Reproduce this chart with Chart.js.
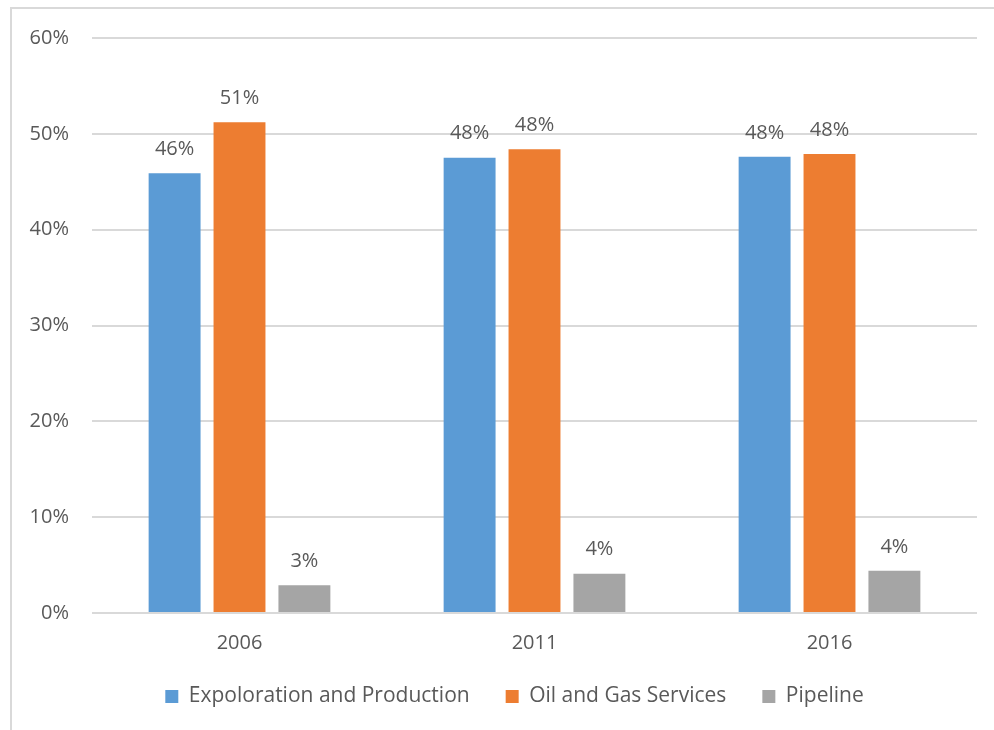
<!DOCTYPE html>
<html>
<head>
<meta charset="utf-8">
<script src="https://cdn.jsdelivr.net/npm/chart.js@4"></script>
<style>
  body { margin: 0; background: #fff; }
  #wrap { position: relative; width: 994px; height: 730px; overflow: hidden; }
  #frame { position: absolute; left: 10px; top: 7px; width: 1020px; height: 760px; border: 2px solid #d9d9d9; }
  #SegmentCanvas { position: absolute; left: 0; top: 0; }
</style>
</head>
<body>
<div id="wrap">
  <div id="frame"></div>
  <canvas id="SegmentCanvas" width="994" height="730"></canvas>
</div>
<script>
// share of activity by segment
const years = ['2006', '2011', '2016']
const explorationProduction = [45.9, 47.5, 47.6]
const oilGasServices = [51.2, 48.4, 47.9]
const pipeline = [2.9, 4.1, 4.4]
const yTicks = [0, 10, 20, 30, 40, 50, 60]

const textColor = '#595959'
const fontFamily = "'Open Sans', 'Noto Sans', sans-serif"

// draw the rounded value above each bar
const barLabels = {
    id: 'barLabels',
    afterDatasetsDraw(chart) {
        const ctx = chart.ctx
        ctx.save()
        ctx.font = '20px ' + fontFamily
        ctx.fillStyle = textColor
        ctx.textAlign = 'center'
        ctx.textBaseline = 'bottom'
        chart.data.datasets.forEach((ds, i) => {
            chart.getDatasetMeta(i).data.forEach((bar, j) => {
                ctx.fillText(Math.round(ds.data[j]) + '%', bar.x, bar.y - 14)
            })
        })
        ctx.restore()
    }
}

// legend sits a bit right of the canvas centre in the original
const legendShift = {
    id: 'legendShift',
    afterLayout(chart) {
        chart.legend.left += 26
        chart.legend.right += 26
    }
}

const segmentCanvas = document.getElementById('SegmentCanvas')
const segmentChart = new Chart(segmentCanvas, {
    type: 'bar',
    data: {
        labels: years,
        datasets: [
            { label: 'Expoloration and Production', data: explorationProduction, backgroundColor: '#5b9bd5' },
            { label: 'Oil and Gas Services', data: oilGasServices, backgroundColor: '#ed7d31' },
            { label: 'Pipeline', data: pipeline, backgroundColor: '#a5a5a5' }
        ]
    },
    options: {
        responsive: false,
        animation: false,
        categoryPercentage: 0.66,
        barPercentage: 0.8,
        layout: { padding: { left: 0, right: 17, top: 38, bottom: 13 } },
        plugins: {
            tooltip: { enabled: false },
            legend: {
                position: 'bottom',
                maxHeight: 70,
                labels: {
                    color: textColor,
                    font: { family: fontFamily, size: 21 },
                    boxWidth: 13,
                    boxHeight: 13,
                    padding: 36
                }
            }
        },
        scales: {
            x: {
                afterFit(scale) { scale.height = 37 },
                grid: { display: false },
                border: { display: false },
                ticks: { color: textColor, font: { family: fontFamily, size: 20 }, padding: 10 }
            },
            y: {
                min: 0,
                max: 60,
                afterFit(scale) { scale.width = 92 },
                afterBuildTicks(scale) { scale.ticks = yTicks.map(v => ({ value: v })) },
                grid: { color: '#d9d9d9', lineWidth: 2, drawTicks: false },
                border: { display: false },
                ticks: {
                    color: textColor,
                    font: { family: fontFamily, size: 20 },
                    padding: 23,
                    callback: v => v + '%'
                }
            }
        }
    },
    plugins: [barLabels, legendShift]
})
</script>
</body>
</html>
